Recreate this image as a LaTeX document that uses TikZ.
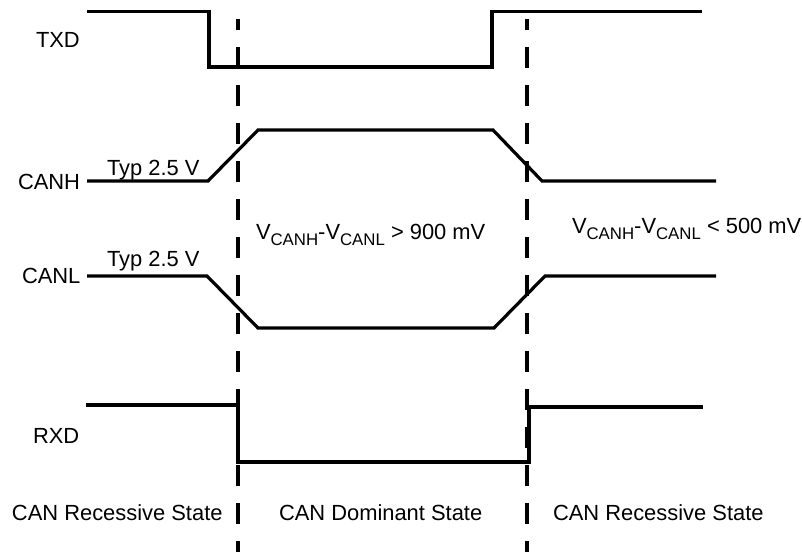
\documentclass[tikz,border=0pt]{standalone}
\usepackage{fontspec}
\setmainfont{Liberation Sans}
\newcommand{\mainsz}{\fontsize{21.9}{24}\selectfont}
\newcommand{\subtxt}[1]{\raisebox{-6pt}{\fontsize{16.8}{19}\selectfont #1}}
\begin{document}
\begin{tikzpicture}[x=1pt,y=-1pt,
  wave/.style={line width=3.2pt, line join=miter},
  divider/.style={line width=3.2pt, dash pattern=on 21pt off 17pt, dash phase=9.7pt},
  lbl/.style={anchor=base west, inner sep=0pt, outer sep=0pt, font=\mainsz}]
\useasboundingbox (0,0) rectangle (802,552);
% signal labels
\node[lbl] (txd) at (36,47) {TXD};
\node[lbl] (canh) at (18,189.5) {CANH};
\node[lbl] (typh) at (107,175.5) {Typ 2.5 V};
\node[lbl] (canl) at (22,283) {CANL};
\node[lbl] (typl) at (107,266.5) {Typ 2.5 V};
\node[lbl] (rxd) at (33,443) {RXD};
% differential voltage labels
\node[lbl] (dom) at (256,239) {V\subtxt{CANH}-V\subtxt{CANL} > 900 mV};
\node[lbl] (rec) at (572,233) {V\subtxt{CANH}-V\subtxt{CANL} < 500 mV};
% state labels
\node[lbl] (s1) at (12,520) {CAN Recessive State};
\node[lbl] (s2) at (279,520) {CAN Dominant State};
\node[lbl] (s3) at (553,520) {CAN Recessive State};
% waveforms
\draw[wave] (87,11.5) -- (209,11.5) -- (209,67) -- (492,67) -- (492,11.5) -- (702,11.5);
\draw[wave] (87,181) -- (208,181) -- (258,130) -- (493,130) -- (542,181) -- (716,181);
\draw[wave] (87,276) -- (207,276) -- (258,328) -- (494,328) -- (545,276) -- (716,276);
\draw[wave] (86,405) -- (238,405) -- (238,462) -- (529,462) -- (529,407) -- (703,407);
% dashed dividers
\coordinate (d1t) at (238,19);
\coordinate (d1b) at (238,552);
\coordinate (d2t) at (527,19);
\coordinate (d2b) at (527,552);
\draw[divider] (d1t) -- (d1b);
\draw[divider] (d2t) -- (d2b);
\end{tikzpicture}
\end{document}
